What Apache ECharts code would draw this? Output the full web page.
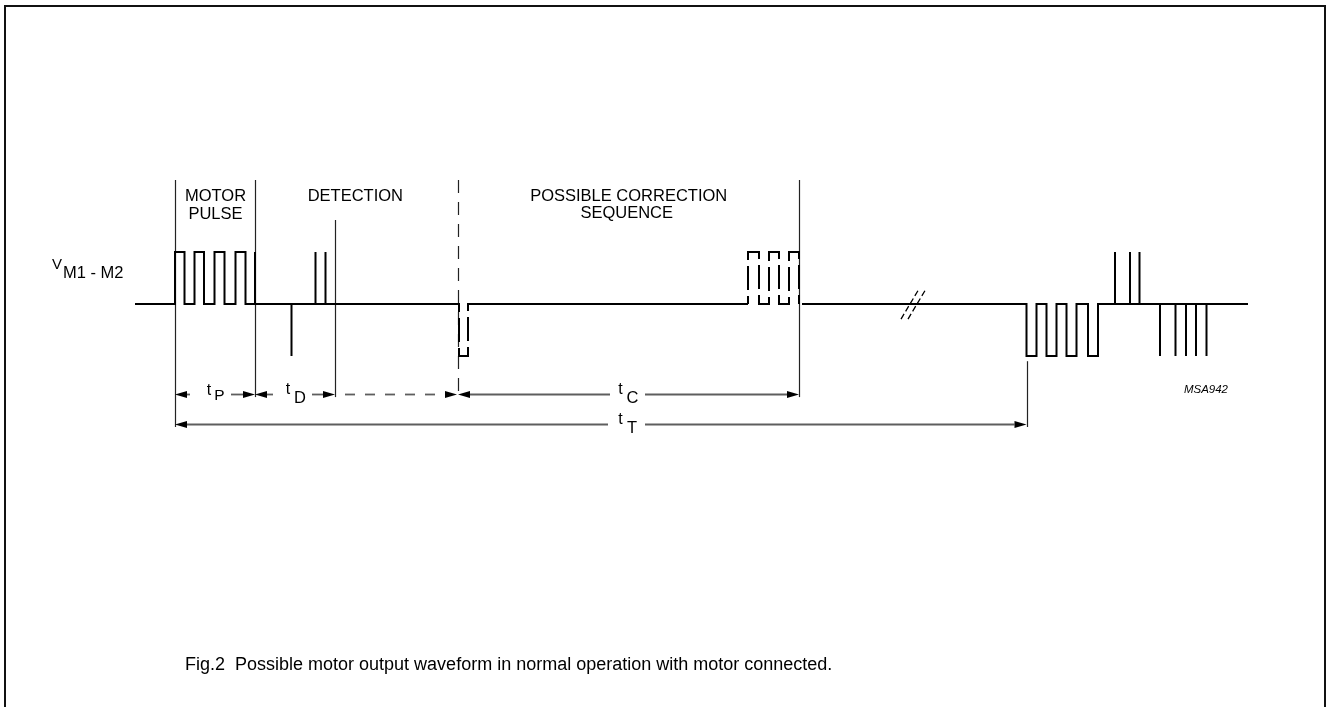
<!DOCTYPE html>
<html>
<head>
<meta charset="utf-8">
<script src="https://cdn.jsdelivr.net/npm/echarts@6/dist/echarts.min.js"></script>
<style>
html,body{margin:0;padding:0;background:#fff;}
#chart{width:1328px;height:707px;}
</style>
</head>
<body>
<div id="chart"></div>
<script>
// ---- data (time axis: diagram units; level: +1 high, 0 idle, -1 low) ----
var motorAndDetection = [[135,0],[175,0],[175,1],[184.5,1],[184.5,0],[194.5,0],[194.5,1],[204,1],[204,0],[214.5,0],[214.5,1],[224.5,1],[224.5,0],[235.5,0],[235.5,1],[245.5,1],[245.5,0],[255,0],[255,1],[255,0],[291.5,0],[291.5,-1],[291.5,0],[315.5,0],[315.5,1],[315.5,0],[325.5,0],[325.5,1],[325.5,0],[455,0]];
var possiblePulse = [[455,0],[459,0],[459,-1],[468,-1],[468,0],[472,0]];
var idleLevel = [[472,0],[748,0]];
var correctionSeq = [[748,0],[748,1],[759,1],[759,0],[769,0],[769,1],[779,1],[779,0],[789,0],[789,1],[799,1],[799,0]];
var nextSequence = [[802,0],[1026.5,0],[1026.5,-1],[1036.5,-1],[1036.5,0],[1046.5,0],[1046.5,-1],[1056.5,-1],[1056.5,0],[1066.5,0],[1066.5,-1],[1076.5,-1],[1076.5,0],[1088,0],[1088,-1],[1098,-1],[1098,0],[1115,0],[1115,1],[1115,0],[1130,0],[1130,1],[1130,0],[1139.5,0],[1139.5,1],[1139.5,0],[1160,0],[1160,-1],[1160,0],[1175.5,0],[1175.5,-1],[1175.5,0],[1186,0],[1186,-1],[1186,0],[1196,0],[1196,-1],[1196,0],[1206.5,0],[1206.5,-1],[1206.5,0],[1248,0]];
var breakSlash1 = [[901,-0.29],[919,0.29]];
var breakSlash2 = [[908,-0.29],[926,0.29]];
// vertical marker lines: [time, top level, bottom level, dashed]
var markers = [[175,2.385,-2.365,0],[255,2.385,-1.79,0],[335,1.615,-1.79,0],[458,2.385,-1.79,1],[799,2.385,-1.79,0],[1026.5,-1.1,-2.365,0]];
// dimension segments: [from, to, level, arrow (1 = at from, 2 = at to), dashed]
var rowP = -1.74, rowT = -2.308;
var dimSegments = [[175,190,rowP,1,0],[231,255,rowP,2,0],[255,273,rowP,1,0],[312,335,rowP,2,0],[345,457,rowP,2,1],[458,610,rowP,1,0],[645,799,rowP,2,0],[175,608,rowT,1,0],[645,1026.5,rowT,2,0]];
var labels = ['MOTOR','PULSE','DETECTION','POSSIBLE CORRECTION','SEQUENCE'];
var dimLabels = [['t','P'],['t','D'],['t','C'],['t','T']];
var caption = 'Fig.2  Possible motor output waveform in normal operation with motor connected.';

var FONT = '"Liberation Sans", Arial, sans-serif';
var chart = echarts.init(document.getElementById('chart'), null, {renderer:'canvas'});

function wave(data, dashed, offset){
  return {type:'line', data:data, symbol:'none', silent:true, animation:false, z:3,
    lineStyle:{color:'#000', width:2, type: dashed ? dashed : 'solid', dashOffset: offset||0, join:'miter'}};
}
function txt(x,y,t,size,opts){
  opts = opts||{};
  return {type:'text', x:x, y:y, silent:true, style:{text:t, fill:'#000', font:(opts.italic?'italic ':'')+size+'px '+FONT, textAlign:opts.align||'center', textVerticalAlign:'middle'}};
}

var option = {
  backgroundColor:'#fff',
  animation:false,
  grid:{left:0,right:0,top:44,bottom:143},
  xAxis:{type:'value',min:0,max:1328,show:false},
  yAxis:{type:'value',min:-5,max:5,show:false},
  series:[
    wave(motorAndDetection),
    wave(possiblePulse,[26,6,24,6],14),
    wave(idleLevel),
    wave(correctionSeq,[26,6,24,6],18),
    wave(nextSequence),
    {type:'line',data:breakSlash1,symbol:'none',silent:true,lineStyle:{color:'#000',width:1.3,type:[6,3]},z:4},
    {type:'line',data:breakSlash2,symbol:'none',silent:true,lineStyle:{color:'#000',width:1.3,type:[6,3]},z:4},
    {type:'custom', data:markers, silent:true, z:2,
      renderItem:function(params,api){
        var p1=api.coord([api.value(0),api.value(1)]), p2=api.coord([api.value(0),api.value(2)]);
        var x=Math.round(p1[0])+0.5;
        return {type:'line', shape:{x1:x,y1:p1[1],x2:x,y2:p2[1]},
          style:{stroke:'#222', lineWidth:1.2, lineDash: api.value(3) ? [13,9] : null}};
      }},
    {type:'custom', data:dimSegments, silent:true, z:2,
      renderItem:function(params,api){
        var y=api.value(2), a=api.value(3), d=api.value(4);
        var p1=api.coord([api.value(0),y]), p2=api.coord([api.value(1),y]);
        var L=12, H=3.5;
        var yy=Math.round(p1[1])+0.5;
        var xs=p1[0], xe=p2[0];
        var lx1 = a===1 ? xs+L : xs, lx2 = a===2 ? xe-L : xe;
        var children=[{type:'line', shape:{x1:lx1,y1:yy,x2:lx2,y2:yy}, style:{stroke:'#5e5e5e', lineWidth:1.8, lineDash: d ? [10,10] : null}}];
        var pts = a===1 ? [[xs,yy],[xs+L,yy-H],[xs+L,yy+H]] : [[xe,yy],[xe-L,yy-H],[xe-L,yy+H]];
        children.push({type:'polygon', shape:{points:pts}, style:{fill:'#000'}});
        return {type:'group', children:children};
      }}
  ],
  graphic:[
    {type:'rect', shape:{x:5,y:6,width:1320,height:730}, style:{fill:null, stroke:'#111', lineWidth:2}, silent:true},
    txt(215.5,196.5,labels[0],16.5),
    txt(215.5,214,labels[1],16.5),
    txt(355.3,196.5,labels[2],16.5),
    txt(628.7,196.5,labels[3],16.5),
    txt(626.7,213,labels[4],16.5),
    txt(52,265,'V',15,{align:'left'}),
    txt(63,273,'M1 - M2',16.5,{align:'left'}),
    txt(209,391,dimLabels[0][0],16),
    txt(219.5,396,dimLabels[0][1],15.5),
    txt(288,390,dimLabels[1][0],16),
    txt(300,398,dimLabels[1][1],16.5),
    txt(620.5,390,dimLabels[2][0],16),
    txt(632.5,398,dimLabels[2][1],16.5),
    txt(620.5,420,dimLabels[3][0],16),
    txt(632,428,dimLabels[3][1],16.5),
    txt(1228,390,'MSA942',11.5,{align:'right',italic:true}),
    txt(185,665,caption,18,{align:'left'})
  ]
};
chart.setOption(option);
</script>
</body>
</html>
